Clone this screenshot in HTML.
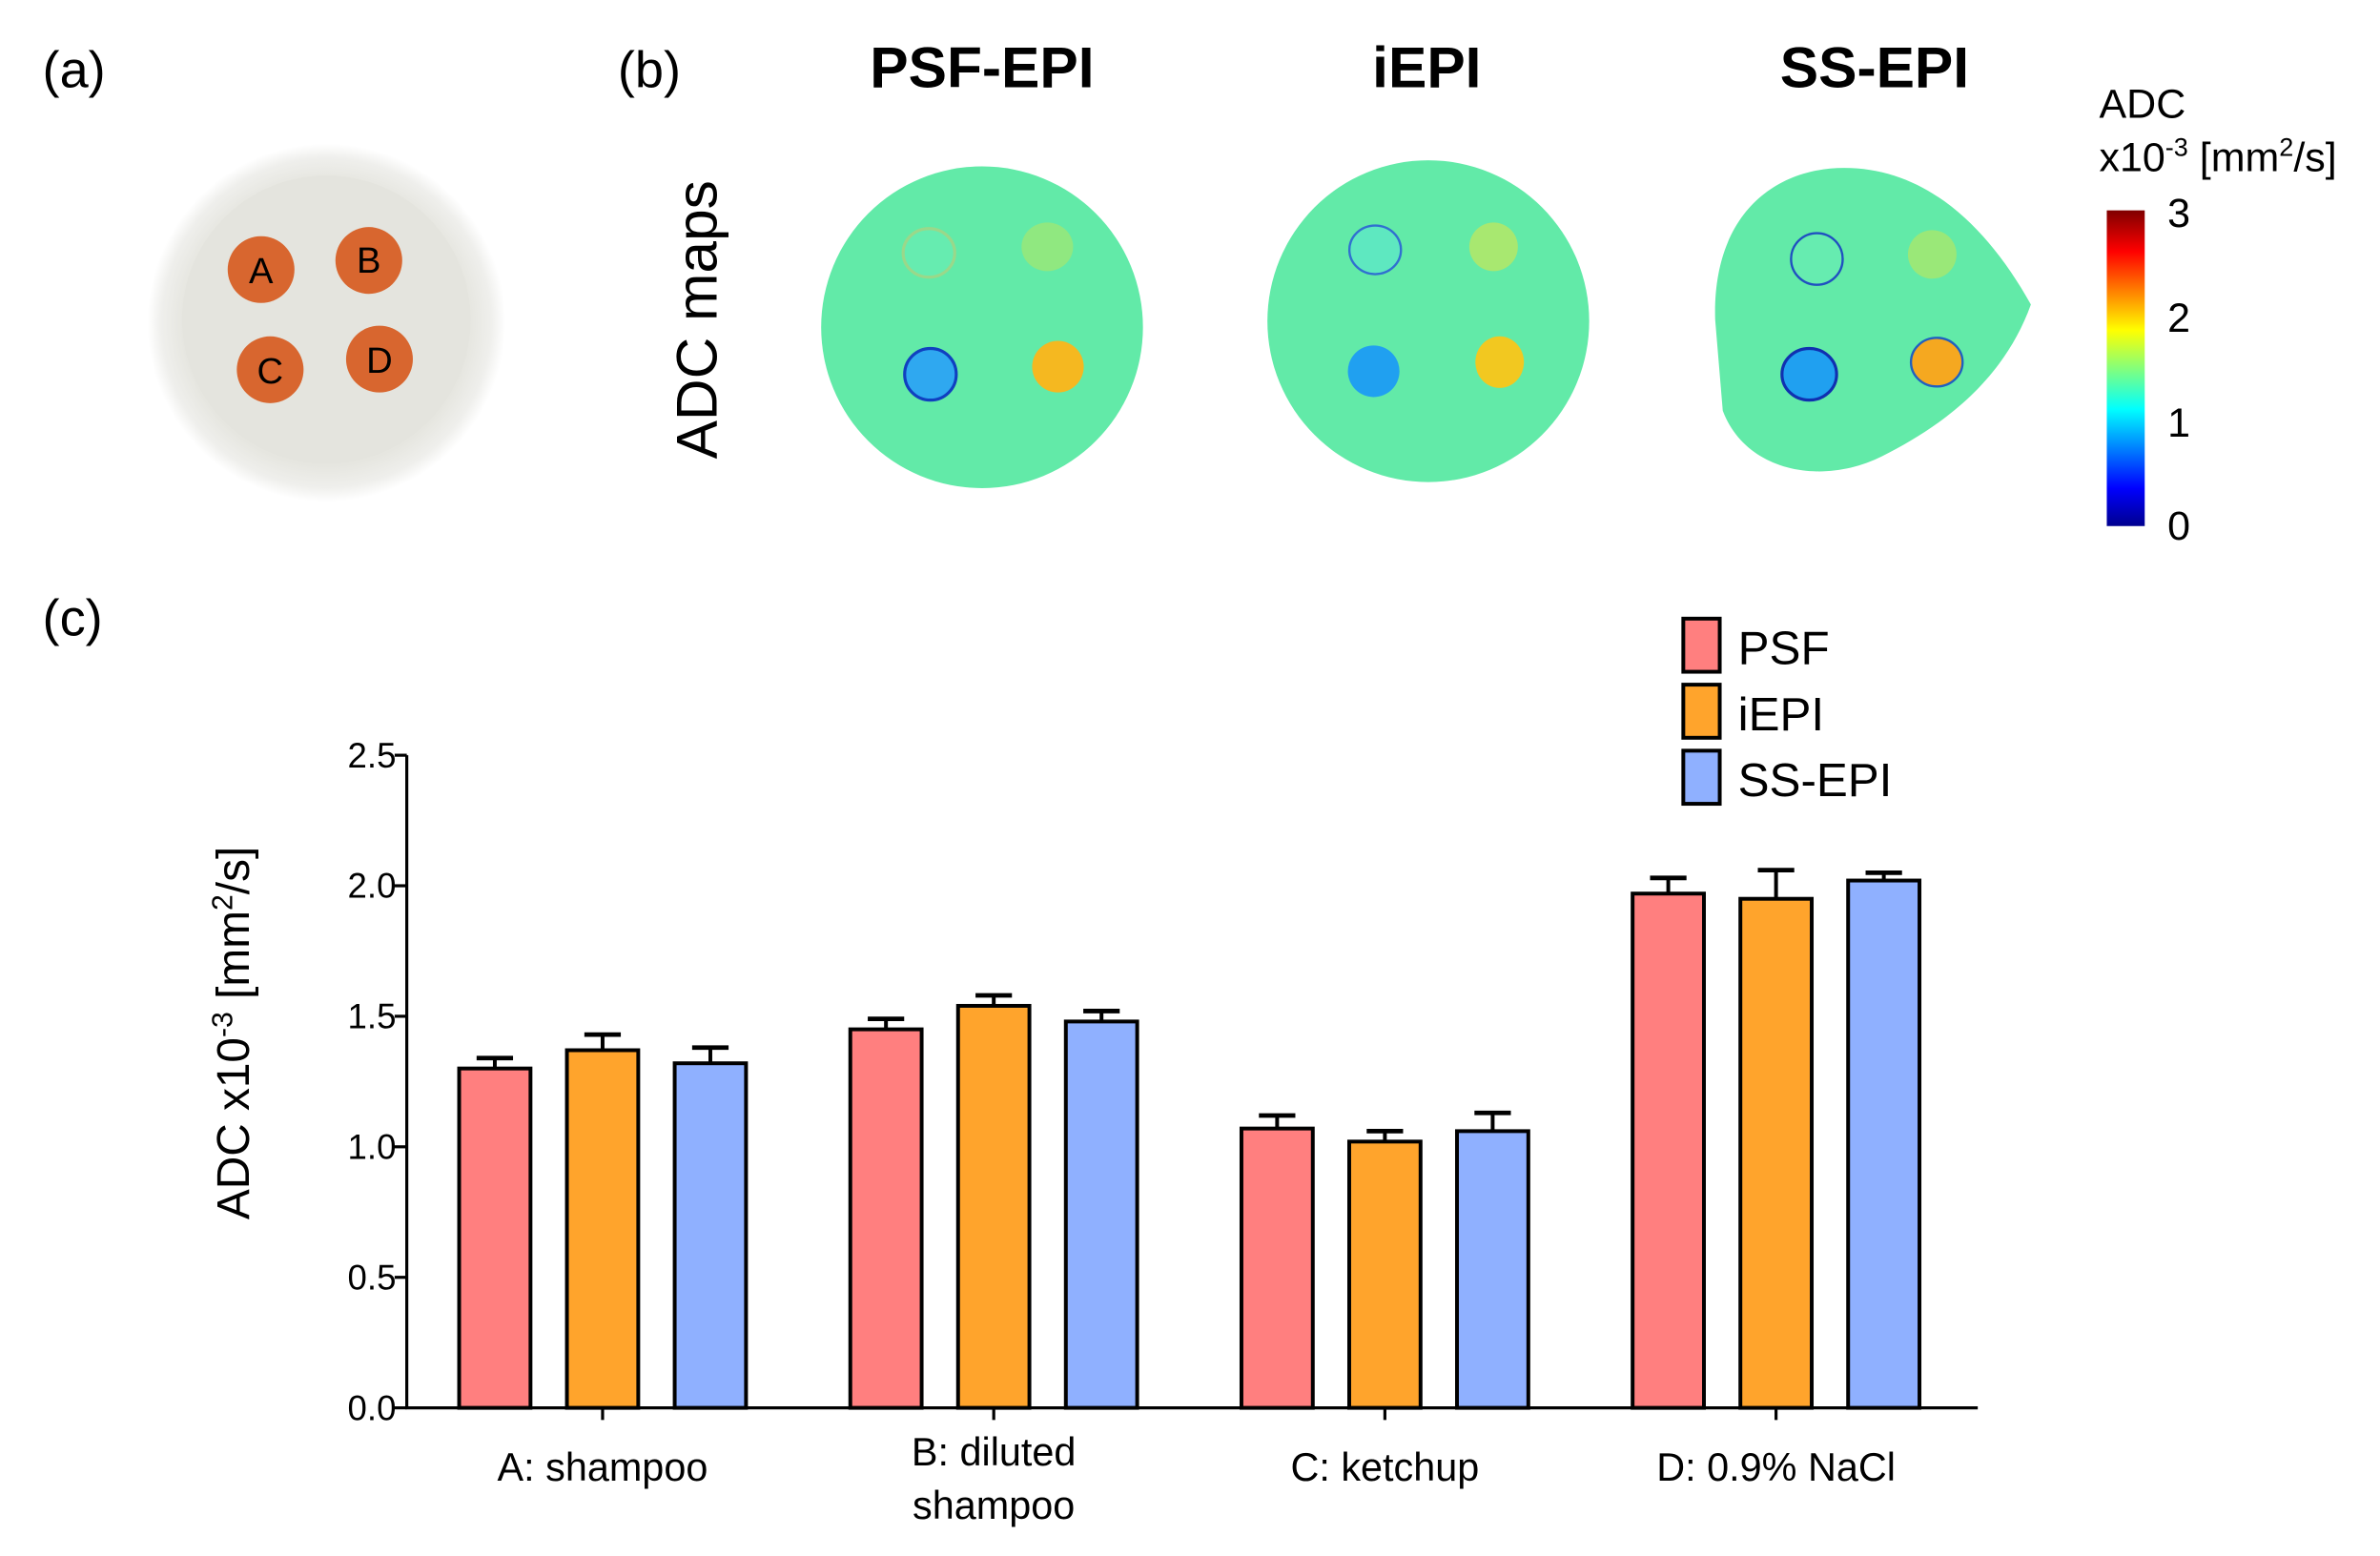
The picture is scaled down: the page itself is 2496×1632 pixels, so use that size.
<!DOCTYPE html>
<html><head><meta charset="utf-8"><style>
html,body{margin:0;padding:0;background:#fff}
svg{display:block;font-family:"Liberation Sans",Arial,sans-serif}
</style></head><body>
<svg id="fig" width="2496" height="1632" viewBox="0 0 1568 1024" xmlns="http://www.w3.org/2000/svg">
<defs>
<linearGradient id="jet" x1="0" y1="1" x2="0" y2="0">
<stop offset="0" stop-color="#00008f"/><stop offset="0.12" stop-color="#0000ff"/><stop offset="0.37" stop-color="#00ffff"/><stop offset="0.62" stop-color="#ffff00"/><stop offset="0.87" stop-color="#ff0000"/><stop offset="1" stop-color="#800000"/>
</linearGradient>
<radialGradient id="dish" cx="0.5" cy="0.5" r="0.5"><stop offset="0.8" stop-color="#e6e6e0"/><stop offset="0.92" stop-color="#efefec"/><stop offset="1" stop-color="#ffffff"/></radialGradient>
</defs>
<text x="28" y="57" font-size="34">(a)</text>
<text x="407" y="57" font-size="34">(b)</text>
<text x="28" y="418" font-size="34">(c)</text>
<g>
<circle cx="215" cy="212" r="118" fill="url(#dish)"/>
<circle cx="215" cy="210" r="95" fill="#e4e4de"/>
<g fill="#d8662f"><circle cx="172" cy="177" r="22"/><circle cx="243" cy="171" r="22"/><circle cx="178" cy="243" r="22"/><circle cx="250" cy="236" r="22"/></g>
<g font-size="24" text-anchor="middle"><text x="172" y="186">A</text><text x="243" y="179">B</text><text x="178" y="252">C</text><text x="250" y="245">D</text></g>
</g>
<g font-size="38" font-weight="bold" text-anchor="middle">
<text x="647" y="57">PSF-EPI</text>
<text x="940" y="57">iEPI</text>
<text x="1235" y="57">SS-EPI</text>
</g>
<text transform="translate(472,210) rotate(-90)" font-size="38" text-anchor="middle">ADC maps</text>
<g>
<circle cx="647" cy="215" r="106" fill="#62eaa8"/>
<ellipse cx="612" cy="166" rx="17" ry="16" fill="#66ecb0" stroke="#9ad88a" stroke-width="2"/>
<ellipse cx="690" cy="162" rx="17" ry="16" fill="#90e880"/>
<ellipse cx="613" cy="246" rx="17" ry="17" fill="#2fa8f0" stroke="#1040c0" stroke-width="2"/>
<ellipse cx="697" cy="241" rx="17" ry="17" fill="#f5b820"/>
</g>
<g>
<circle cx="941" cy="211" r="106" fill="#62eaa8"/>
<ellipse cx="906" cy="164" rx="17" ry="16" fill="#5ee8c0" stroke="#3070d0" stroke-width="1.5"/>
<ellipse cx="984" cy="162" rx="16" ry="16" fill="#a8e870"/>
<ellipse cx="905" cy="244" rx="17" ry="17" fill="#20a0f0"/>
<ellipse cx="988" cy="238" rx="16" ry="17" fill="#f2c820"/>
</g>
<g>
<path d="M1130 210 C1128 140 1170 110 1215 110 C1270 110 1310 150 1338 200 C1320 250 1280 280 1240 300 C1200 320 1150 310 1135 270 Z" fill="#62eaa8"/>
<ellipse cx="1197" cy="170" rx="17" ry="17" fill="#66ecb0" stroke="#2050c0" stroke-width="1.5"/>
<ellipse cx="1273" cy="167" rx="16" ry="16" fill="#9ae878"/>
<ellipse cx="1192" cy="246" rx="18" ry="17" fill="#20a0f0" stroke="#1030b0" stroke-width="2"/>
<ellipse cx="1276" cy="238" rx="17" ry="16" fill="#f5a820" stroke="#2060c0" stroke-width="1.5"/>
</g>
<g>
<text x="1383" y="77" font-size="27">ADC</text>
<text x="1383" y="112" font-size="27">x10<tspan font-size="17" dy="-10">-3</tspan><tspan dy="10"> [mm</tspan><tspan font-size="17" dy="-10">2</tspan><tspan dy="10">/s]</tspan></text>
<rect x="1388" y="138" width="25" height="208" fill="url(#jet)"/>
<g font-size="27"><text x="1428" y="149">3</text><text x="1428" y="218">2</text><text x="1428" y="287">1</text><text x="1428" y="355">0</text></g>
</g>
<g id="chart"></g>
<text transform="translate(164,680) rotate(-90)" font-size="30" text-anchor="middle">ADC x10<tspan font-size="19" dy="-11">-3</tspan><tspan dy="11"> [mm</tspan><tspan font-size="19" dy="-11">2</tspan><tspan dy="11">/s]</tspan></text>
<script>
const categories = ["A: shampoo", "B: diluted\nshampoo", "C: ketchup", "D: 0.9% NaCl"];
const seriesNames = ["PSF", "iEPI", "SS-EPI"];
const psfValues = [1.30, 1.45, 1.07, 1.97];
const iepiValues = [1.37, 1.54, 1.02, 1.95];
const ssValues = [1.32, 1.48, 1.06, 2.02];
const psfErr = [0.04, 0.04, 0.05, 0.06];
const iepiErr = [0.06, 0.04, 0.04, 0.11];
const ssErr = [0.06, 0.04, 0.07, 0.03];
const yTicks = ["0.0", "0.5", "1.0", "1.5", "2.0", "2.5"];

const NS = "http://www.w3.org/2000/svg";
const g = document.getElementById("chart");
const x0 = 268, x1 = 1303, yBot = 927, yTop = 497, yMax = 2.5;
const y = v => yBot - (v / yMax) * (yBot - yTop);
const catX = i => 397 + i * 257.7;
const colors = ["#ff7f7f", "#ffa42c", "#8fb0ff"];
const series = [psfValues, iepiValues, ssValues];
const errs = [psfErr, iepiErr, ssErr];
function mk(tag, attrs, parent) { const e = document.createElementNS(NS, tag); for (const k in attrs) e.setAttribute(k, attrs[k]); (parent || g).appendChild(e); return e; }

categories.forEach((c, i) => {
  series.forEach((vals, s) => {
    const cx = catX(i) + (s - 1) * 71, w = 47;
    const top = y(vals[i] + errs[s][i]);
    const el = mk("line", { x1: cx, x2: cx, y1: y(vals[i]), y2: top, stroke: "#000", "stroke-width": 2.5 });
    
    
    const cap = mk("line", { x1: cx - 12, x2: cx + 12, y1: top, y2: top, stroke: "#000", "stroke-width": 3 });
    
    
    const r = mk("rect", { x: cx - w / 2, y: y(vals[i]), width: w, height: yBot - y(vals[i]), fill: colors[s], stroke: "#000", "stroke-width": 2.5 });
    
    
  });
  const t = mk("line", { x1: catX(i), x2: catX(i), y1: yBot, y2: yBot + 8, stroke: "#000", "stroke-width": 2 });
  
  
  const lines = c.split("\n");
  lines.forEach((ln, k) => {
    const tx = mk("text", { x: catX(i), y: (lines.length > 1 ? 965 : 975) + k * 35, "font-size": 26, "text-anchor": "middle" });
    tx.textContent = ln;
    
    
  });
});
const ax = mk("path", { d: `M${x0} ${yTop} V${yBot} H${x1}`, fill: "none", stroke: "#000", "stroke-width": 2 });


yTicks.forEach(tl => {
  const v = parseFloat(tl), yy = y(v);
  const tk = mk("line", { x1: x0 - 8, x2: x0, y1: yy, y2: yy, stroke: "#000", "stroke-width": 2 });
  
  
  const tx = mk("text", { x: x0 - 7, y: yy + 8, "font-size": 23, "text-anchor": "end" });
  tx.textContent = tl;
  
  
});
seriesNames.forEach((n, s) => {
  const ly = 407 + s * 43.5;
  const b = mk("rect", { x: 1109, y: ly, width: 24, height: 35, fill: colors[s], stroke: "#000", "stroke-width": 2.5 });
  
  
  const tx = mk("text", { x: 1145, y: ly + 30, "font-size": 31 });
  tx.textContent = n;
  
  
});
</script>
</svg>
</body></html>
